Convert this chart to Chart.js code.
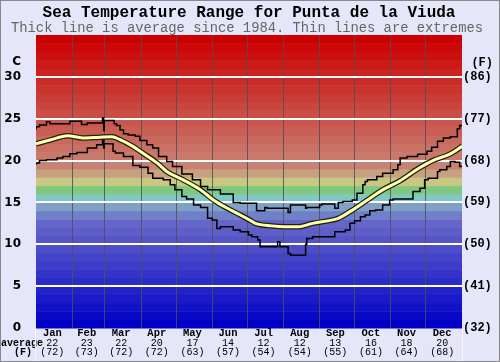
<!DOCTYPE html>
<html>
<head>
<meta charset="utf-8">
<script src="https://cdn.jsdelivr.net/npm/chart.js"></script>
<style>
  html, body { margin: 0; padding: 0; background: #e6e6fa; }
  canvas { display: block; }
</style>
</head>
<body>
<canvas id="canvas" width="500" height="362"></canvas>
<script>
// Month labels under the axis
const monthNames = ['Jan', 'Feb', 'Mar', 'Apr', 'May', 'Jun', 'Jul', 'Aug', 'Sep', 'Oct', 'Nov', 'Dec'];
const monthAvgC = ['22', '23', '22', '20', '17', '14', '12', '12', '13', '16', '18', '20'];
const monthAvgF = ['(72)', '(73)', '(72)', '(72)', '(63)', '(57)', '(54)', '(54)', '(55)', '(61)', '(64)', '(68)'];
const monthStartDays = [0, 31, 59, 90, 120, 151, 181, 212, 243, 273, 304, 334, 365];
const yTicksC = [0, 5, 10, 15, 20, 25, 30];

// Highest recorded (thin line, top)
const maxDays = [0, 3, 9, 12, 18, 29, 39, 44, 49, 57, 58, 58.5, 59, 67, 69, 72, 75, 79, 85, 89,
  95, 100, 105, 112, 117, 125, 134, 141, 147, 158, 169, 175, 183, 189, 190, 196, 198, 216, 218, 220,
  231, 232, 243, 245, 256, 259, 263, 271, 275, 280, 282, 284, 292, 297, 306, 310, 312, 318, 327, 335,
  339, 344, 349, 355, 361, 363, 365];
const maxTemps = [23.7, 24.05, 24.25, 24.65, 24.4, 24.4, 24.7, 24.3, 24.5, 24.5, 25.1, 23.6, 24.8, 24.8, 24.4, 24.2, 23.65, 23.2, 23.05, 22.9,
  22.4, 21.9, 21.5, 20.5, 19.9, 19.3, 18.4, 17.7, 16.9, 16.5, 16.0, 15.0, 14.9, 14.9, 14.0, 14.0, 14.4, 14.3, 13.8, 14.7,
  14.7, 14.3, 14.4, 14.7, 14.8, 14.3, 15.0, 15.1, 15.3, 16.1, 17.1, 17.5, 17.7, 18.1, 18.5, 18.9, 19.5, 20.3, 20.5, 20.75,
  21.1, 21.6, 22.3, 22.7, 22.85, 23.8, 24.2];

// Average since 1984 (thick line)
const avgDays = [0, 12, 27, 40, 55, 65, 72, 83, 92, 104, 112, 126, 141, 152, 164, 175, 183, 188, 202, 213,
  225, 237, 250, 259, 269, 284, 297, 312, 327, 340, 355, 365];
const avgTemps = [22.0, 22.45, 22.97, 22.7, 22.8, 22.85, 22.5, 21.7, 20.85, 19.7, 18.7, 17.7, 16.5, 15.3, 14.3, 13.5, 12.9, 12.5, 12.2, 12.1,
  12.1, 12.5, 12.8, 13.1, 13.9, 15.3, 16.5, 17.6, 19.0, 20.0, 20.8, 21.7];

// Lowest recorded (thin line, bottom)
const minDays = [0, 3, 9, 18, 23, 29, 35, 44, 52, 57, 58, 58.5, 59, 66, 68, 75, 83, 89, 96, 100,
  109, 115, 119, 125, 129, 135, 141, 147, 151, 155, 158, 169, 175, 182, 185, 190, 192, 199, 207, 209,
  211, 216, 218, 231, 232, 237, 256, 265, 269, 273, 278, 282, 286, 291, 297, 303, 306, 323, 329, 333,
  336, 344, 346, 352, 355, 359, 363, 365];
const minTemps = [19.5, 19.7, 20.0, 20.1, 20.3, 20.5, 20.8, 20.95, 21.5, 21.9, 22.85, 21.5, 22.0, 22.0, 21.1, 20.9, 20.5, 19.4, 19.2, 18.5,
  17.9, 17.7, 17.1, 16.5, 15.7, 15.4, 14.7, 14.4, 13.1, 12.9, 11.9, 12.1, 11.7, 11.5, 11.1, 10.9, 10.5, 9.7, 9.7, 10.3,
  9.7, 9.7, 8.9, 8.7, 10.0, 10.7, 10.9, 11.5, 11.7, 12.5, 12.8, 13.3, 13.5, 14.0, 14.1, 14.7, 15.3, 15.4, 16.3, 16.7,
  17.7, 17.9, 18.7, 18.9, 19.3, 19.9, 19.8, 19.3];

const toPoints = (days, temps) => days.map((d, i) => ({ x: d, y: temps[i] }));

// colour of the 1 degree band starting at t
function bandColor(t) {
  if (t <= 12) { const v = Math.round(t * 8.5); return `rgb(${v},${v},200)`; }
  if (t === 13) return 'rgb(112,128,200)';
  if (t === 14) return 'rgb(128,160,200)';
  if (t === 15) return 'rgb(128,200,200)';
  if (t === 16) return 'rgb(128,200,128)';
  if (t === 17) return 'rgb(200,200,128)';
  if (t === 18) return 'rgb(200,162,128)';
  const f = Math.min(1, (t - 19) / 15);
  return `rgb(${Math.round(200 + 4 * f)},${Math.round(130 * (1 - f))},${Math.round(115 * (1 - f))})`;
}

const bandPlugin = {
  id: 'bands',
  beforeDraw(chart) {
    const { ctx, chartArea: a, scales: { y } } = chart;
    ctx.save();
    ctx.fillStyle = '#e6e6fa';
    ctx.fillRect(0, 0, chart.width, chart.height);
    for (let t = 0; t < 35; t++) {
      const top = y.getPixelForValue(t + 1), bot = y.getPixelForValue(t);
      ctx.fillStyle = bandColor(t);
      ctx.fillRect(a.left, top, a.right - a.left, bot - top + 0.5);
    }
    ctx.restore();
  }
};

const textPlugin = {
  id: 'texts',
  afterDraw(chart) {
    const { ctx, chartArea: a, scales: { x } } = chart;
    ctx.save();
    ctx.textBaseline = 'middle';
    ctx.fillStyle = '#000';
    ctx.textAlign = 'center';
    ctx.font = 'bold 16px "Liberation Mono"';
    ctx.fillText('Sea Temperature Range for Punta de la Viuda', 249, 13);
    ctx.fillStyle = '#666';
    ctx.font = '13.8px "Liberation Mono"';
    ctx.fillText('Thick line is average since 1984. Thin lines are extremes', 247, 28);

    ctx.fillStyle = '#000';
    ctx.textAlign = 'right';
    ctx.font = 'bold 12px "DejaVu Sans"';
    ctx.fillText('C', 21, 62);
    ctx.font = 'bold 12px "Liberation Mono"';
    ctx.fillText('(F)', 493, 63);

    ctx.textAlign = 'center';
    monthNames.forEach((m, i) => {
      const cx = x.getPixelForValue((monthStartDays[i] + monthStartDays[i + 1]) / 2 - 1.5);
      ctx.font = 'bold 10.5px "Liberation Mono"';
      ctx.fillText(m, cx, 333);
      ctx.font = '10px "Liberation Mono"';
      ctx.fillText(monthAvgC[i], cx, 343);
      ctx.fillText(monthAvgF[i], cx, 352);
    });
    ctx.textAlign = 'left';
    ctx.font = 'bold 10px "Liberation Mono"';
    ctx.fillText('average', 1, 343);
    ctx.textAlign = 'center';
    ctx.fillText('(F)', 23, 352);

    // faint lines continuing the plot edges, and the frame
    ctx.strokeStyle = '#f4f4ff';
    ctx.lineWidth = 1;
    ctx.beginPath();
    ctx.moveTo(a.left - 0.5, a.bottom); ctx.lineTo(a.left - 0.5, chart.height);
    ctx.moveTo(a.right + 0.5, a.bottom); ctx.lineTo(a.right + 0.5, chart.height);
    ctx.stroke();
    ctx.strokeStyle = '#888';
    ctx.strokeRect(0.5, 0.5, chart.width - 1, chart.height - 1);
    ctx.restore();
  }
};

Chart.defaults.font.family = 'DejaVu Sans';

const canvas = document.getElementById('canvas');
const myChart = new Chart(canvas.getContext('2d'), {
  type: 'line',
  data: {
    datasets: [
      {
        data: toPoints(avgDays, avgTemps),
        borderColor: '#ffffb0', borderWidth: 3, pointRadius: 0,
        cubicInterpolationMode: 'monotone'
      },
      {
        data: toPoints(avgDays, avgTemps),
        borderColor: '#202010', borderWidth: 5.5, pointRadius: 0,
        cubicInterpolationMode: 'monotone'
      },
      {
        data: toPoints(maxDays, maxTemps),
        borderColor: '#000', borderWidth: 1.5, pointRadius: 0, stepped: 'after'
      },
      {
        data: toPoints(minDays, minTemps),
        borderColor: '#000', borderWidth: 1.5, pointRadius: 0, stepped: 'after'
      }
    ]
  },
  options: {
    responsive: false,
    animation: false,
    events: [],
    layout: { padding: { top: 35, left: 0, right: 0, bottom: 0 } },
    plugins: { legend: { display: false }, tooltip: { enabled: false } },
    scales: {
      x: {
        type: 'linear', min: 0, max: 365,
        afterBuildTicks: s => { s.ticks = monthStartDays.slice(1, 12).map(v => ({ value: v })); },
        grid: { color: 'rgba(80,80,80,0.85)', lineWidth: 1, drawTicks: false },
        border: { display: false },
        ticks: { display: false },
        afterFit: s => { s.height = 34; }
      },
      y: {
        position: 'left', min: 0, max: 35,
        afterBuildTicks: s => { s.ticks = yTicksC.map(v => ({ value: v })); },
        grid: { color: c => c.tick.value === 0 ? 'rgba(0,0,0,0)' : '#fff', lineWidth: 2, drawTicks: false },
        border: { display: false },
        ticks: { color: '#000', padding: 15, font: { family: 'DejaVu Sans', weight: 'bold', size: 12 } },
        afterFit: s => { s.width = 36; }
      },
      y2: {
        position: 'right', min: 0, max: 35,
        afterBuildTicks: s => { s.ticks = yTicksC.map(v => ({ value: v })); },
        grid: { display: false, drawTicks: false },
        border: { display: false },
        ticks: {
          color: '#000', padding: 1,
          font: { family: 'Liberation Mono', weight: 'bold', size: 12 },
          callback: v => '(' + Math.round(v * 9 / 5 + 32) + ')'
        },
        afterFit: s => { s.width = 38; }
      }
    }
  },
  plugins: [bandPlugin, textPlugin]
});
</script>
</body>
</html>
